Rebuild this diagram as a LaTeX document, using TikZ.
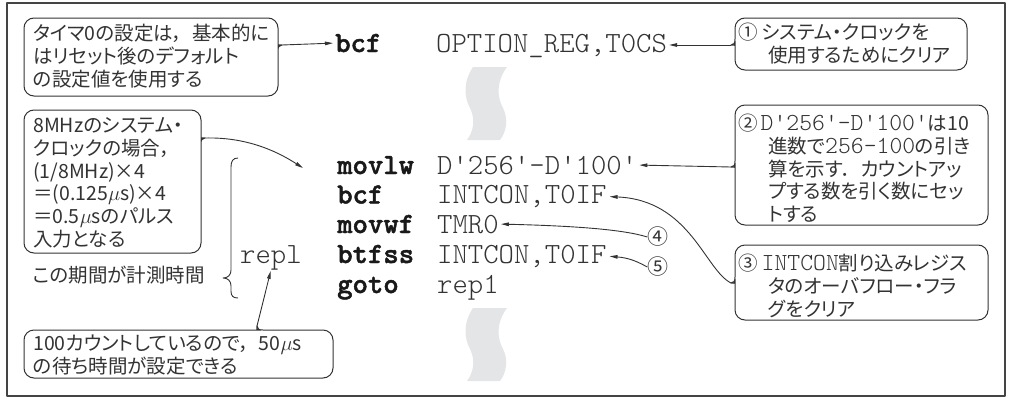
\documentclass[tikz,border=0pt]{standalone}
\usepackage{fontspec}
\setmainfont{Noto Sans CJK JP}[RawFeature=+palt]
\newfontfamily\cmono{lmmonolt10-regular.otf}[BoldFont=lmmonolt10-bold.otf,BoldFeatures={FakeBold=1.6}]
\usetikzlibrary{arrows.meta}
\definecolor{ink}{HTML}{333333}
\definecolor{wave}{HTML}{E4E5E7}
\definecolor{framec}{HTML}{444444}
\newcommand\q{\textquotesingle}
\newcommand\mus{$\mu$s}
\newcommand\jm[1]{{\cmono\fontsize{24.5}{22.8}\selectfont #1}}
\newcommand\zc{，\hspace{0.5em}}
% right notch
\newcommand\bubR[6]{%
 \draw[bubble] (#4,#6+6) [rounded corners=10pt] -- (#4,#5) -- (#2,#5) -- (#2,#3) -- (#4,#3) -- (#4,#6-6)
   [sharp corners] .. controls (#4,#6-2) and (#4+1,#6) .. (#4+4,#6) .. controls (#4+1,#6) and (#4,#6+2) .. (#4,#6+6) -- cycle;
 \coordinate (#1) at (#4+4,#6);}
% left notch
\newcommand\bubL[6]{%
 \draw[bubble] (#2,#6-6) [rounded corners=10pt] -- (#2,#3) -- (#4,#3) -- (#4,#5) -- (#2,#5) -- (#2,#6+6)
   [sharp corners] .. controls (#2,#6+2) and (#2-1,#6) .. (#2-4,#6) .. controls (#2-1,#6) and (#2,#6-2) .. (#2,#6-6) -- cycle;
 \coordinate (#1) at (#2-4,#6);}
% top notch
\newcommand\bubT[6]{%
 \draw[bubble] (#6+6,#3) [rounded corners=10pt] -- (#4,#3) -- (#4,#5) -- (#2,#5) -- (#2,#3) -- (#6-6,#3)
   [sharp corners] .. controls (#6-2,#3) and (#6,#3-1) .. (#6,#3-4) .. controls (#6,#3-1) and (#6+2,#3) .. (#6+6,#3) -- cycle;
 \coordinate (#1) at (#6,#3-4);}
\tikzset{
  bubble/.style={draw=ink, line width=1pt, fill=white},
  conn/.style={draw=ink, line width=0.9pt, -{Triangle[length=8pt,width=3.6pt]}},
  jtext/.style={inner sep=0pt, anchor=north west, align=left, font=\fontsize{19.5}{22.8}\selectfont, text=ink},
  jlabel/.style={inner sep=0pt, anchor=base west, font=\fontsize{19.5}{22.8}\selectfont, text=ink},
  code/.style={inner sep=0pt, anchor=base west, font=\cmono\fontsize{29.3}{30}\selectfont, text=ink},
  codeb/.style={code, font=\cmono\bfseries\fontsize{29.3}{30}\selectfont, text=black!90},
  wavy/.style={fill=wave, draw=none},
  circ/.style={inner sep=0pt, font=\fontsize{21}{21}\selectfont, text=ink}
}
\begin{document}
\begin{tikzpicture}[x=1pt,y=-1pt,line join=round]
\useasboundingbox (0,0) rectangle (1010,399);
\draw[line width=1.6pt, framec] (7,3) rectangle (1005,396);

% omission marks
\foreach \dy in {0,241}{
\fill[wavy, shift={(0,\dy)}] (473,67) -- (507,67) .. controls (496,82) and (497,97) .. (503,108)
   .. controls (509,120) and (506,132) .. (500,140) -- (467,140)
   .. controls (473,132) and (476,120) .. (470,108) .. controls (464,97) and (463,82) .. (473,67) -- cycle;
}

% callouts
\bubR{c1n}{24}{18}{278}{96}{45}
\bubL{can}{735}{18}{967}{70}{45}
\bubL{cbn}{735}{105}{988}{225}{167}
\bubL{ccn}{735}{245}{988}{320}{283}
\bubR{cdn}{24}{110}{201}{253}{138}
\bubT{cen}{24}{330}{333}{378}{257}

% callout texts
\node[jtext] (t1) at (33,20.6) {\rule{0pt}{20pt}タイマ0の設定は\zc 基本的に\\はリセット後のデフォルト\\の設定値を使用する};
\node[jtext] (ta) at (738,19.3) {\rule{0pt}{20pt}①\hspace{4pt}システム・クロックを\\\hspace*{30pt}使用するためにクリア};
\node[jtext] (tb) at (738,110.3) {\rule{0pt}{20pt}②\hspace{3pt}\jm{D\q256\q-D\q100\q}は10\\\hspace*{30pt}進数で\jm{256-100}の引き\\\hspace*{30pt}算を示す．\hspace{0.45em}カウントアッ\\\hspace*{30pt}プする数を引く数にセッ\\\hspace*{30pt}トする};
\node[jtext] (tc) at (738,250.3) {\rule{0pt}{20pt}③\hspace{4pt}\jm{INTCON}割り込みレジス\\\hspace*{30pt}タのオーバフロー・フラ\\\hspace*{30pt}グをクリア};
\node[jtext] (td) at (33,112.3) {\rule{0pt}{20pt}8MHzのシステム・\\クロックの場合，\\(1/8MHz)×4\\＝(0.125\mus{})×4\\＝0.5\mus{}のパルス\\入力となる};
\node[jlabel] (lab) at (33,282.3) {この期間が計測時間};
\node[jtext] (te) at (33,330.3) {\rule{0pt}{20pt}100カウントしているので\zc 50\mus{}\\の待ち時間が設定できる};

% code
\node[codeb] (bcf0) at (335,52) {bcf};
\node[code] (op0) at (436,52) {OPTION\_REG,T0CS};
\node[codeb] (mn1) at (337,174) {movlw};
\node[code] (op1) at (437,174) {D\q256\q-D\q100\q};
\node[codeb] (mn2) at (337,203.5) {bcf};
\node[code] (op2) at (437,203.5) {INTCON,T0IF};
\node[codeb] (mn3) at (337,233) {movwf};
\node[code] (op3) at (437,233) {TMR0};
\node[codeb] (mn4) at (337,263) {btfss};
\node[code] (op4) at (437,263) {INTCON,T0IF};
\node[codeb] (mn5) at (337,293) {goto};
\node[code] (op5) at (437,293) {rep1};
\node[code] (repl) at (240,263) {repl};

\node[circ] (n4) at (658,237) {④};
\node[circ] (n5) at (658,267) {⑤};
\coordinate (tipM) at (303,168);

% brace
\draw[ink, line width=0.9pt] (238,158) .. controls (233,158) and (231,161) .. (231,167) -- (231,270)
  .. controls (231,275) and (228,278) .. (223,278) .. controls (228,278) and (231,281) .. (231,286)
  -- (231,291) .. controls (231,296) and (233,298) .. (238,298);

% connectors
\draw[conn, shorten >=2pt] (c1n) -- (bcf0.west);
\draw[conn, shorten >=2pt] (can) -- (can -| op0.east);
\draw[conn, shorten >=2pt] (cbn) -- (op1.east);
\draw[conn, shorten >=3pt] (ccn) .. controls (705,270) and (690,200) .. (op2.east);
\draw[conn, shorten >=2pt] (n4.west) .. controls (625,230) and (580,226) .. (op3.east);
\draw[conn, shorten >=3pt] (n5.west) .. controls (638,262) and (630,258) .. (op4.east);
\draw[conn] (cdn) .. controls (245,137) and (275,150) .. (tipM);
\draw[conn, shorten >=1pt] (cen) -- (repl.south);
\end{tikzpicture}
\end{document}
